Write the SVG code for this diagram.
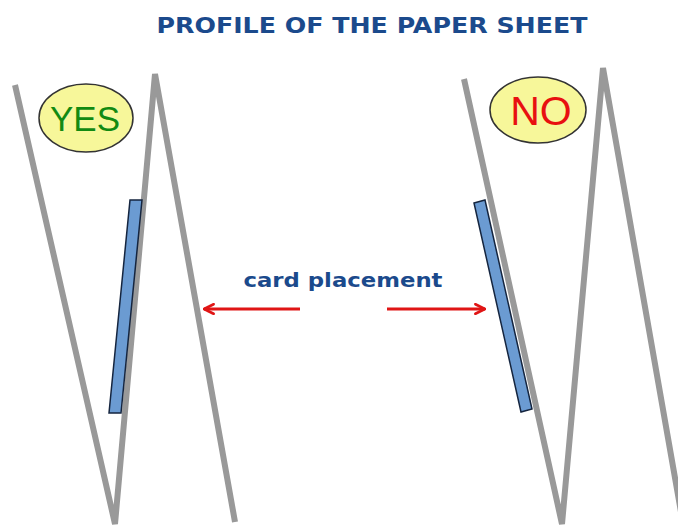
<svg xmlns="http://www.w3.org/2000/svg" width="678" height="529" viewBox="0 0 678 529">
<defs>
<style>
.sheet{fill:none;stroke:#999999;stroke-width:6;stroke-linejoin:miter;stroke-linecap:butt}
.card{fill:#6b9bd2;stroke:#15253f;stroke-width:1.5}
.badge{fill:#f7f79a;stroke:#333;stroke-width:1.5}
.title{font-family:"DejaVu Sans",Verdana,sans-serif;font-weight:bold;fill:#1b4a8c}
.arrow{stroke:#e01515;stroke-width:3;fill:none}
</style>
<marker id="head" viewBox="0 0 10 10" refX="9" refY="5" markerWidth="4" markerHeight="4" orient="auto" markerUnits="strokeWidth">
<path d="M1,1 L9,5 L1,9" fill="none" stroke="#e01515" stroke-width="2.2" stroke-linecap="round"/>
</marker>
</defs>
<rect width="678" height="529" fill="#ffffff"/>
<text class="title" x="372" y="33" font-size="22" text-anchor="middle" textLength="431" lengthAdjust="spacingAndGlyphs">PROFILE OF THE PAPER SHEET</text>
<g id="yes-sheet">
<polyline class="sheet" points="15,85 115,524 155,74 235,522"/>
</g>
<g id="yes-card">
<polygon class="card" points="130,200 142,200 121,413 109,413"/>
</g>
<g id="yes-badge">
<ellipse class="badge" cx="86" cy="118" rx="47" ry="34"/>
<text x="85" y="131" font-family="Liberation Sans,Arial,sans-serif" font-size="35" fill="#128a12" text-anchor="middle">YES</text>
</g>
<g id="no-sheet">
<polyline class="sheet" points="464,79 562,524 603,68 684,529"/>
</g>
<g id="no-card">
<polygon class="card" points="474,203 485,200 532,409 521,412"/>
</g>
<g id="no-badge">
<ellipse class="badge" cx="538" cy="110" rx="48" ry="33"/>
<text x="541" y="125" font-family="Liberation Sans,Arial,sans-serif" font-size="41" fill="#e81010" text-anchor="middle">NO</text>
</g>
<g id="label">
<text class="title" x="343" y="287" font-size="20" text-anchor="middle" textLength="199" lengthAdjust="spacingAndGlyphs">card placement</text>
</g>
<g id="connectors">
<line class="arrow" x1="300" y1="309" x2="204" y2="309" marker-end="url(#head)"/>
<line class="arrow" x1="387" y1="309" x2="485" y2="309" marker-end="url(#head)"/>
</g>
</svg>
